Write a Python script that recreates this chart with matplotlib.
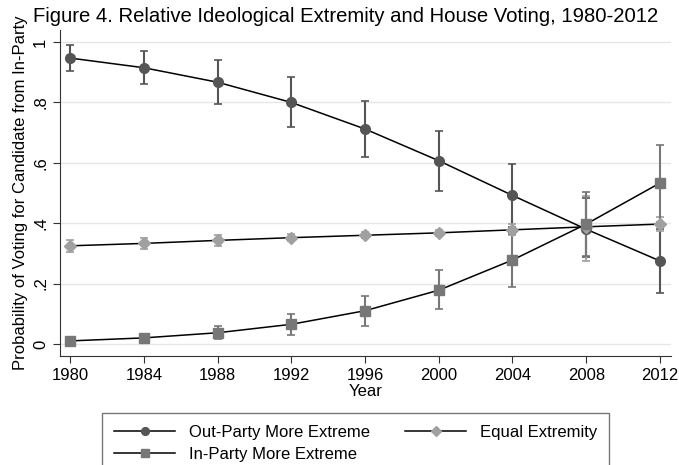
import numpy as np
import matplotlib.pyplot as plt

plt.rcParams['font.family'] = ['Liberation Sans', 'DejaVu Sans']

anos = [1980, 1984, 1988, 1992, 1996, 2000, 2004, 2008, 2012]

# Out-Party More Extreme
fora = [0.947, 0.915, 0.867, 0.800, 0.712, 0.607, 0.492, 0.380, 0.275]
fora_lo = [0.905, 0.860, 0.795, 0.717, 0.620, 0.508, 0.388, 0.288, 0.169]
fora_hi = [0.990, 0.972, 0.940, 0.884, 0.805, 0.706, 0.597, 0.483, 0.380]

# Equal Extremity
igual = [0.325, 0.333, 0.343, 0.352, 0.360, 0.368, 0.378, 0.388, 0.397]
igual_lo = [0.305, 0.315, 0.326, 0.340, 0.350, 0.358, 0.360, 0.275, 0.375]
igual_hi = [0.345, 0.352, 0.360, 0.364, 0.370, 0.378, 0.398, 0.490, 0.420]

# In-Party More Extreme
dentro = [0.010, 0.020, 0.037, 0.065, 0.110, 0.178, 0.278, 0.397, 0.533]
dentro_lo = [0.003, 0.010, 0.015, 0.030, 0.060, 0.115, 0.190, 0.290, 0.405]
dentro_hi = [0.017, 0.030, 0.060, 0.100, 0.160, 0.245, 0.365, 0.503, 0.660]

rotulos_y = ['0', '.2', '.4', '.6', '.8', '1']


def desenhar(ax, y, lo, hi, marcador, cor, tam, nome):
    y = np.array(y)
    erro = [y - np.array(lo), np.array(hi) - y]
    ax.errorbar(anos, y, yerr=erro, fmt='none', ecolor=cor, elinewidth=1.5,
                capsize=3, capthick=1.2, zorder=2)
    linha, = ax.plot(anos, y, color='black', lw=1.1, marker=marcador,
                     markersize=tam, markerfacecolor=cor, markeredgecolor=cor,
                     label=nome, zorder=3)
    return linha


fig = plt.figure(figsize=(6.79, 4.65), dpi=100)
ax = fig.add_axes([60 / 679, 1 - 356 / 465, 611 / 679, 326 / 465])

l1 = desenhar(ax, fora, fora_lo, fora_hi, 'o', '#555555', 7, 'Out-Party More Extreme')
l3 = desenhar(ax, igual, igual_lo, igual_hi, 'D', '#a0a0a0', 6, 'Equal Extremity')
l2 = desenhar(ax, dentro, dentro_lo, dentro_hi, 's', '#777777', 7, 'In-Party More Extreme')

ax.set_xlim(1979.45, 2012.6)
ax.set_ylim(-0.04, 1.04)
ax.set_xticks(anos)
ax.set_yticks(np.arange(0, 1.01, 0.2))
ax.set_yticklabels(rotulos_y, rotation=90, va='center')
ax.tick_params(labelsize=12, length=5, color='#333333')
ax.grid(axis='y', color='#e6e6e6', lw=1)
ax.set_axisbelow(True)
for lado in ['top', 'right']:
    ax.spines[lado].set_visible(False)
for lado in ['left', 'bottom']:
    ax.spines[lado].set_color('#333333')

ax.set_xlabel('Year', fontsize=12, labelpad=1)
ax.set_ylabel('Probability of Voting for Candidate from In-Party', fontsize=12, labelpad=4)
fig.text(33 / 679, 1 - 16 / 465, 'Figure 4. Relative Ideological Extremity and House Voting, 1980-2012',
         fontsize=14.6, va='center', ha='left')

leg = fig.legend([l1, l2, l3], [l1.get_label(), l2.get_label(), l3.get_label()],
                 ncol=2, loc='upper left', bbox_to_anchor=(102 / 679, 1 - 413 / 465),
                 borderaxespad=0, fontsize=12, frameon=True, fancybox=False,
                 edgecolor='#555555', handlelength=3.7, columnspacing=2.1,
                 borderpad=0.7, labelspacing=0.45, markerscale=0.8)
leg.get_frame().set_linewidth(1)

fig.savefig('out.png', dpi=100)
